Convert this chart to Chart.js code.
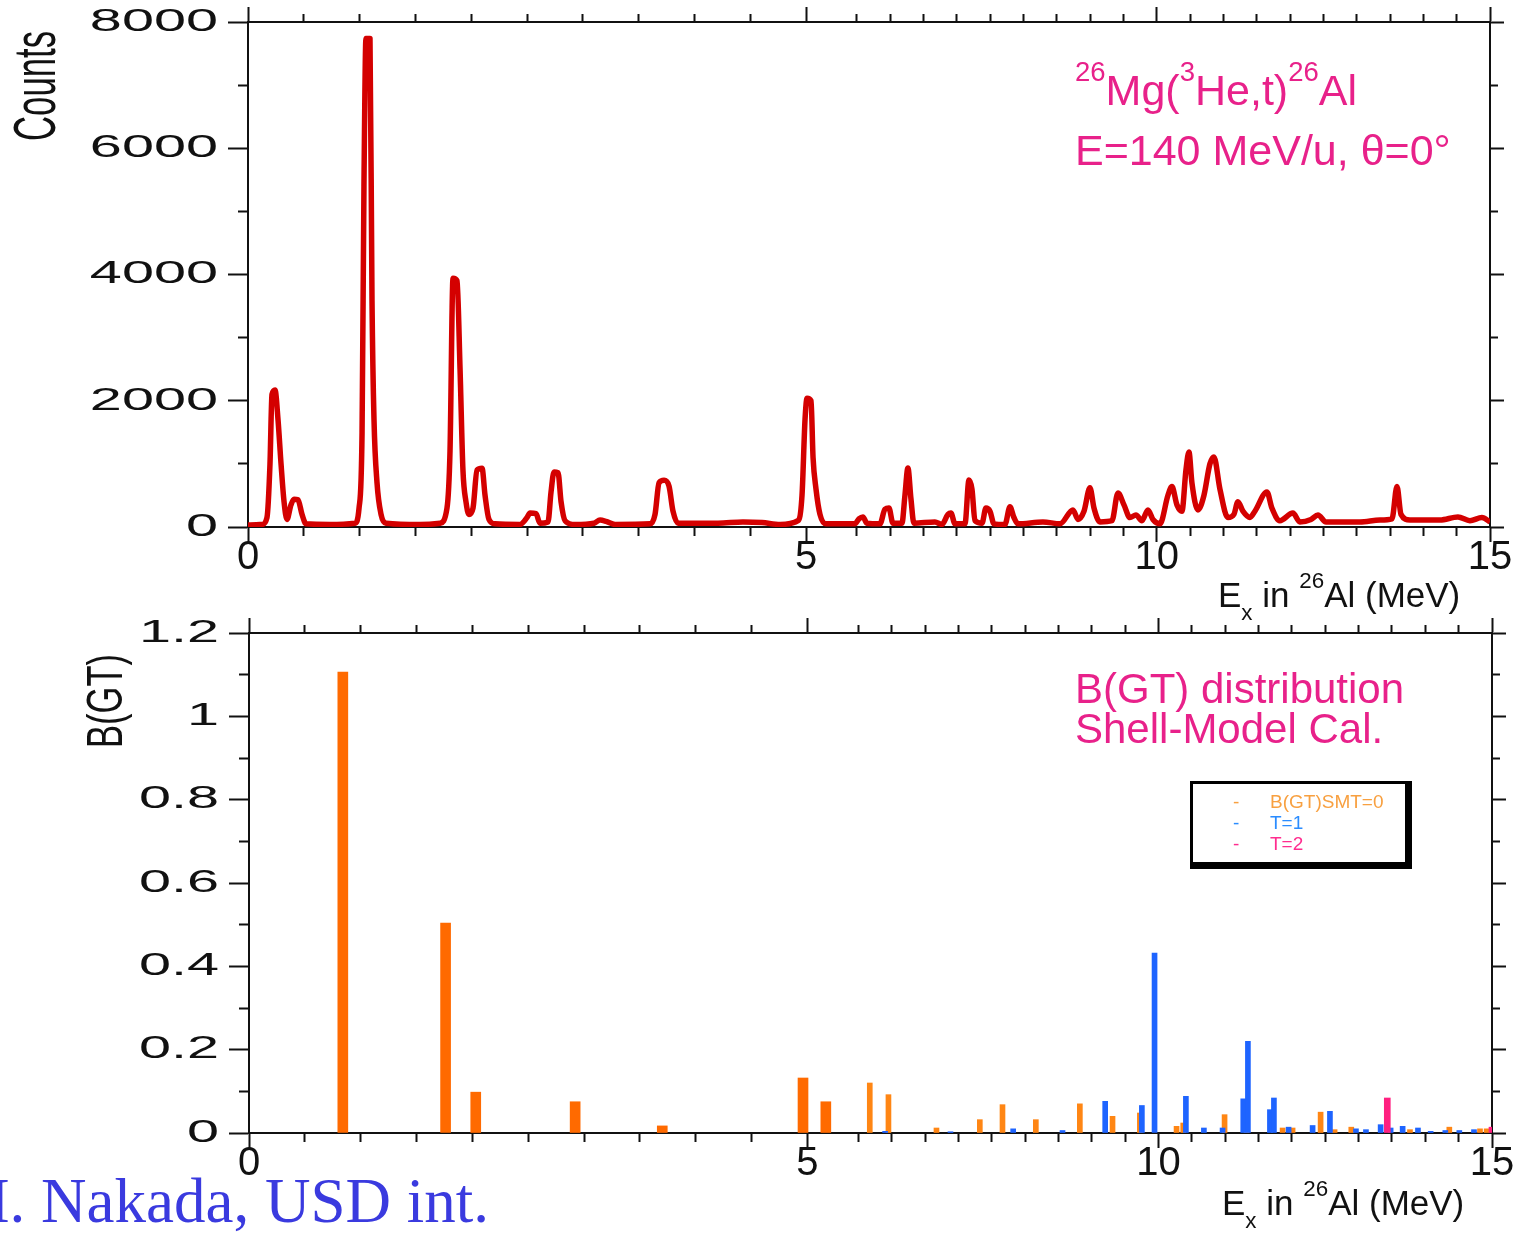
<!DOCTYPE html>
<html>
<head>
<meta charset="utf-8">
<title>26Mg(3He,t)26Al and B(GT)</title>
<script src="https://cdn.jsdelivr.net/npm/chart.js@4.4.1/dist/chart.umd.min.js"></script>
<style>
  html, body { margin: 0; padding: 0; background: #fff; overflow: hidden; }
  #page { position: relative; width: 1516px; height: 1236px; }
  #spec { position: absolute; left: 0; top: 0; }
  #bgt { position: absolute; left: 0; top: 612px; }
</style>
</head>
<body>
<div id="page">
  <canvas id="spec" width="1516" height="620"></canvas>
  <canvas id="bgt" width="1516" height="624"></canvas>
</div>
<script>
// tick labels
const xLabels = [0, 5, 10, 15];
const countLabels = [0, 2000, 4000, 6000, 8000];
const bgtLabels = [0, 0.2, 0.4, 0.6, 0.8, 1, 1.2];

// measured spectrum: Ex (MeV) / counts
const specE = [0.000, 0.125, 0.170, 0.197, 0.215, 0.242, 0.269, 0.296, 0.323, 0.349, 0.385, 0.412, 0.448, 0.484, 0.520,
  0.735, 0.959, 0.995, 1.022, 1.039, 1.057, 1.093, 1.111, 1.129, 1.156, 1.192, 1.237, 1.541, 1.720, 1.783, 1.810,
  1.837, 1.873, 1.900, 1.926, 1.953, 1.980, 2.016, 2.052, 2.097, 2.124, 2.159, 2.213, 2.437, 2.500, 2.527, 2.581,
  2.616, 2.688, 2.715, 2.742, 2.778, 2.805, 2.841, 2.930, 3.100, 3.154, 3.208, 3.289, 3.602, 3.647, 3.683, 3.728,
  3.772, 3.808, 3.853, 3.978, 4.211, 4.435, 4.606, 4.767, 4.928, 4.964, 4.991, 5.010, 5.049, 5.069, 5.098, 5.137,
  5.196, 5.480, 5.530, 5.590, 5.650, 5.845, 5.920, 5.980, 6.040, 6.175, 6.220, 6.265, 6.310, 6.355, 6.671, 6.776,
  6.866, 6.911, 6.971, 7.121, 7.181, 7.226, 7.271, 7.376, 7.436, 7.496, 7.556, 7.721, 7.796, 7.856, 7.916, 8.291,
  8.547, 8.742, 8.817, 8.907, 8.997, 9.057, 9.147, 9.327, 9.417, 9.507, 9.597, 9.687, 9.777, 9.867, 9.942, 10.047,
  10.167, 10.227, 10.302, 10.377, 10.437, 10.482, 10.527, 10.617, 10.707, 10.797, 10.857, 10.947, 11.067, 11.157,
  11.217, 11.292, 11.397, 11.472, 11.652, 11.727, 11.847, 12.042, 12.147, 12.314, 12.418, 12.539, 13.049, 13.349,
  13.529, 13.604, 13.664, 13.799, 14.249, 14.519, 14.699, 14.879, 15.000];
const specC = [30, 40, 150, 1000, 2100, 2170, 1700, 1000, 400, 120, 350, 440, 430, 200, 50,
  40, 60, 300, 1500, 5400, 7740, 7740, 3600, 1700, 700, 200, 60, 40, 60, 300, 1200,
  3940, 3900, 2500, 900, 400, 200, 300, 900, 930, 500, 120, 50, 40, 150, 220, 210,
  60, 80, 550, 870, 860, 400, 100, 40, 60, 110, 90, 40, 50, 200, 700, 740,
  650, 250, 60, 60, 60, 80, 70, 40, 100, 500, 1700, 2040, 2000, 1100, 600, 200,
  50, 50, 130, 160, 60, 50, 280, 300, 60, 60, 500, 935, 450, 60, 80, 40,
  200, 220, 50, 50, 745, 600, 100, 60, 300, 250, 50, 40, 320, 150, 50, 80,
  50, 270, 120, 250, 620, 300, 80, 100, 540, 350, 150, 190, 100, 270, 120, 50,
  500, 640, 350, 250, 900, 1190, 700, 270, 500, 1000, 1110, 600, 150, 200,
  400, 250, 150, 250, 555, 300, 100, 220, 80, 120, 190, 80, 80, 110,
  130, 640, 200, 110, 110, 160, 100, 150, 80];

// shell-model B(GT): T=0, T=1, T=2
const t0E = [0.84, 1.76, 2.03, 2.92, 3.70, 4.96, 5.18, 5.67, 5.95, 6.67, 7.32, 7.66, 8.16, 8.82, 9.31, 9.72,
  10.27, 10.37, 10.99, 11.32, 11.86, 12.01, 12.43, 12.64, 12.89, 13.77, 14.36, 14.82, 14.92];
const t0B = [1.106, 0.504, 0.098, 0.075, 0.017, 0.132, 0.075, 0.12, 0.092, 0.012, 0.032, 0.068, 0.032, 0.07, 0.04, 0.048,
  0.016, 0.024, 0.044, 0.015, 0.012, 0.012, 0.05, 0.008, 0.014, 0.008, 0.014, 0.01, 0.01];
const t1E = [5.90, 6.88, 7.82, 8.56, 9.20, 9.75, 9.94, 10.41, 10.68, 10.96, 11.27, 11.34, 11.67, 11.73, 11.95, 12.31,
  12.57, 12.96, 13.11, 13.33, 13.48, 13.66, 13.89, 14.08, 14.30, 14.51, 14.73];
const t1B = [0.004, 0.003, 0.01, 0.006, 0.076, 0.066, 0.432, 0.088, 0.012, 0.012, 0.082, 0.22, 0.056, 0.084, 0.014, 0.018,
  0.052, 0.01, 0.008, 0.02, 0.012, 0.016, 0.012, 0.004, 0.006, 0.006, 0.008];
const t2E = [13.43, 15.0];
const t2B = [0.084, 0.014];

const RED = '#d40000';
const ORANGE = '#ff6a00';
const ORANGE_LT = '#ff8614';
const BLUE = '#1e64ff';
const PINK = '#ff2080';
const MAGENTA = '#e8218a';
const INK = '#111';
const SANS = '"Liberation Sans", Arial, sans-serif';
const NARROW = '"Liberation Sans Narrow", "Liberation Sans", Arial, sans-serif';

// the printed energy axis is not linear, 0-5.5 MeV is stretched
const axisE = [0, 5, 5.5, 15];
const axisF = [0, 0.4493, 0.4903, 1];

function eToFrac(e) {
  for (let i = 1; i < axisE.length; i++) {
    if (e <= axisE[i] || i === axisE.length - 1) {
      const t = (e - axisE[i - 1]) / (axisE[i] - axisE[i - 1]);
      return axisF[i - 1] + t * (axisF[i] - axisF[i - 1]);
    }
  }
}
function fracToE(f) {
  for (let i = 1; i < axisF.length; i++) {
    if (f <= axisF[i] || i === axisF.length - 1) {
      const t = (f - axisF[i - 1]) / (axisF[i] - axisF[i - 1]);
      return axisE[i - 1] + t * (axisE[i] - axisE[i - 1]);
    }
  }
}

class SegmentScale extends Chart.LinearScale {
  static id = 'segment';
  static defaults = Chart.LinearScale.defaults;
  getPixelForValue(v) { return this.getPixelForDecimal(eToFrac(v)); }
  getValueForPixel(p) { return fracToE(this.getDecimalForPixel(p)); }
}

// y labels in the original are drawn very wide
class WideScale extends Chart.LinearScale {
  static id = 'wide';
  static defaults = Chart.LinearScale.defaults;
  drawLabels(area) {
    const o = this.options;
    const ax = this.right - o.grid.tickLength - o.ticks.padding;
    const ctx = this.ctx;
    ctx.save();
    ctx.translate(ax, 0);
    ctx.scale(1.8, 1);
    ctx.translate(-ax, 0);
    super.drawLabels(area);
    ctx.restore();
  }
}
Chart.register(SegmentScale, WideScale);

const near = (list, v) => list.find(t => Math.abs(t - v) < 1e-6);

// tick marks: long for labelled values, short otherwise
function marks(pos, long, short, labels) {
  const outerFirst = pos === 'left' || pos === 'top';
  return {
    drawOnChartArea: false,
    offset: false,
    tickLength: long,
    tickWidth: 2,
    tickColor: INK,
    tickBorderDash: c => (!c.tick || near(labels, c.tick.value) !== undefined) ? [] :
      (outerFirst ? [0, long - short, short, 200] : [short, 200])
  };
}
const edge = { display: true, color: INK, width: 2 };

// fixed box sizes so the plot areas land where the original has them
const fixH = h => s => { s.height = h; s.paddingLeft = 0; s.paddingRight = 0; };
const fixW = w => s => { s.width = w; s.paddingTop = 0; s.paddingBottom = 0; };

function xAxes(h, top) {
  return {
    x: {
      type: 'segment', position: 'bottom', min: 0, max: 15, offset: false,
      ticks: {
        stepSize: 0.5, autoSkip: false, maxRotation: 0, minRotation: 0, padding: -4, color: INK,
        font: { family: NARROW, size: 40, lineHeight: 1 },
        callback: v => { const t = near(xLabels, v); return t === undefined ? '' : String(t); }
      },
      grid: marks('bottom', 15, 8, xLabels), border: edge,
      afterFit: fixH(h)
    },
    x2: {
      type: 'segment', position: 'top', min: 0, max: 15, offset: false,
      ticks: { stepSize: 0.5, autoSkip: false, display: false },
      grid: marks('top', 15, 8, xLabels), border: edge,
      afterFit: fixH(top)
    }
  };
}

function yAxes(max, step, labels, left, right) {
  const lab = v => { const t = near(labels, v); return t === undefined ? '' : String(t); };
  return {
    y: {
      type: 'wide', position: 'left', min: 0, max: max,
      ticks: { stepSize: step, autoSkip: false, padding: 10, color: INK, font: { family: SANS, size: 32 }, callback: lab },
      grid: marks('left', 20, 10, labels), border: edge,
      afterFit: fixW(left)
    },
    y2: {
      type: 'linear', position: 'right', min: 0, max: max,
      ticks: { stepSize: step, autoSkip: false, display: false },
      grid: marks('right', 14, 7, labels), border: edge,
      afterFit: fixW(right)
    }
  };
}

// text with super/subscripts: parts are [text, level]
function rich(ctx, x, y, parts, size) {
  ctx.textAlign = 'left';
  ctx.textBaseline = 'alphabetic';
  for (const [txt, lvl] of parts) {
    const s = lvl ? size * 0.64 : size;
    const dy = lvl > 0 ? -size * 0.55 : lvl < 0 ? size * 0.38 : 0;
    ctx.font = s + 'px ' + SANS;
    ctx.fillText(txt, x, y + dy);
    x += ctx.measureText(txt).width;
  }
}

// rotated, condensed axis title
function vertical(ctx, txt, cx, cy, size, len) {
  ctx.save();
  ctx.font = size + 'px ' + SANS;
  const w = ctx.measureText(txt).width;
  ctx.translate(cx, cy);
  ctx.rotate(-Math.PI / 2);
  ctx.scale(len / w, 1);
  ctx.textAlign = 'center';
  ctx.textBaseline = 'middle';
  ctx.fillText(txt, 0, 0);
  ctx.restore();
}

const specText = {
  id: 'specText',
  afterDraw(chart) {
    const ctx = chart.ctx;
    ctx.save();
    ctx.fillStyle = MAGENTA;
    rich(ctx, 1075, 105, [['26', 1], ['Mg(', 0], ['3', 1], ['He,t)', 0], ['26', 1], ['Al', 0]], 43);
    rich(ctx, 1075, 165, [['E=140 MeV/u, \u03b8=0\u00b0', 0]], 43);
    ctx.fillStyle = INK;
    rich(ctx, 1218, 607, [['E', 0], ['x', -1], [' in ', 0], ['26', 1], ['Al (MeV)', 0]], 35);
    vertical(ctx, 'Counts', 38, 86, 60, 110);
    ctx.restore();
  }
};

const oy = 612;
const bgtText = {
  id: 'bgtText',
  afterDraw(chart) {
    const ctx = chart.ctx;
    ctx.save();
    ctx.fillStyle = MAGENTA;
    rich(ctx, 1075, 703 - oy, [['B(GT) distribution', 0]], 42);
    rich(ctx, 1075, 743 - oy, [['Shell-Model Cal.', 0]], 42);

    // legend box with drop shadow
    ctx.fillStyle = '#000';
    ctx.fillRect(1190, 781 - oy, 222, 88);
    ctx.fillStyle = '#fff';
    ctx.fillRect(1193, 784 - oy, 212, 78);
    const rows = [['B(GT)SMT=0', '#f8a040'], ['T=1', '#2a8cff'], ['T=2', '#ff2d8f']];
    ctx.font = '19px ' + SANS;
    rows.forEach(([t, c], i) => {
      ctx.fillStyle = c;
      ctx.fillText('-', 1233, 808 + i * 21 - oy);
      ctx.fillText(t, 1270, 808 + i * 21 - oy);
    });

    ctx.fillStyle = INK;
    rich(ctx, 1222, 1215 - oy, [['E', 0], ['x', -1], [' in ', 0], ['26', 1], ['Al (MeV)', 0]], 35);
    vertical(ctx, 'B(GT)', 108, 701 - oy, 50, 94);

    ctx.fillStyle = '#3a3adf';
    ctx.font = '63px "Liberation Serif", "Times New Roman", serif';
    ctx.textAlign = 'left';
    ctx.fillText('H. Nakada, USD int.', -36, 1222 - oy);
    ctx.restore();
  }
};

new Chart(document.getElementById('spec'), {
  type: 'line',
  data: {
    datasets: [{
      data: specE.map((e, i) => ({ x: e, y: specC[i] })),
      borderColor: RED,
      borderWidth: 5.5,
      borderJoinStyle: 'round',
      cubicInterpolationMode: 'monotone',
      pointRadius: 0,
      fill: false,
      xAxisID: 'x', yAxisID: 'y'
    }]
  },
  options: {
    responsive: false,
    animation: false,
    layout: { padding: 0 },
    plugins: { legend: { display: false }, tooltip: { enabled: false } },
    scales: Object.assign(xAxes(93, 22), yAxes(8000, 1000, countLabels, 248, 26))
  },
  plugins: [specText]
});

const bars = (E, B, color, w) => ({
  data: E.map((e, i) => ({ x: e, y: B[i] })),
  backgroundColor: color,
  borderWidth: 0,
  barThickness: w,
  grouped: false,
  xAxisID: 'x', yAxisID: 'y'
});
const strong = t0E.map(e => e < 5.3);

new Chart(document.getElementById('bgt'), {
  type: 'bar',
  data: {
    datasets: [
      bars(t2E, t2B, PINK, 6),
      bars(t1E, t1B, BLUE, 5),
      bars(t0E.filter((e, i) => !strong[i]), t0B.filter((b, i) => !strong[i]), ORANGE_LT, 5),
      bars(t0E.filter((e, i) => strong[i]), t0B.filter((b, i) => strong[i]), ORANGE, 10)
    ]
  },
  options: {
    responsive: false,
    animation: false,
    layout: { padding: 0 },
    plugins: { legend: { display: false }, tooltip: { enabled: false } },
    scales: Object.assign(xAxes(103, 21), yAxes(1.2, 0.1, bgtLabels, 249, 24))
  },
  plugins: [bgtText]
});
</script>
</body>
</html>
